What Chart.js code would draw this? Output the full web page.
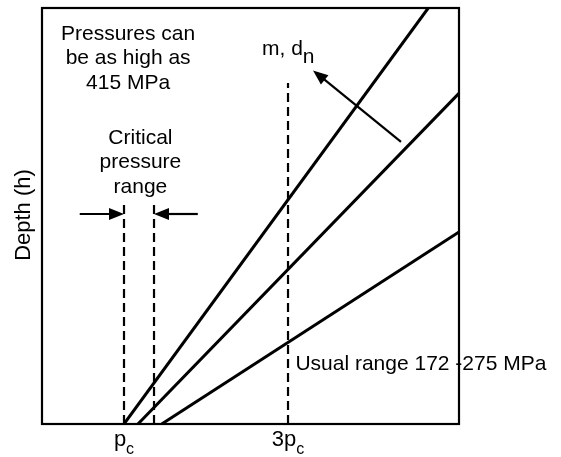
<!DOCTYPE html>
<html>
<head>
<meta charset="utf-8">
<script src="https://cdn.jsdelivr.net/npm/chart.js@4"></script>
<style>
  html, body { margin: 0; padding: 0; background: #fff; }
  #wrap { width: 561px; height: 457px; }
</style>
</head>
<body>
<div id="wrap"><canvas id="chart" width="561" height="457"></canvas></div>
<script>
(function () {
  'use strict';

  // x in multiples of p_c, y is depth in arbitrary units (0 at bottom)
  var lineStartX = [1.0, 1.17, 1.46];
  var lineEndX = [4.71, 5.09, 5.09];
  var lineEndY = [10, 7.96, 4.62];

  var dashX = [1.0, 1.366, 3.0];
  var dashTopY = [5.29, 5.29, 8.2];

  var xTickValues = [1, 3];
  var xTickLabels = ['p', '3p'];

  var FONT = '"Liberation Sans", Arial, sans-serif';

  var datasets = [];
  for (var i = 0; i < lineStartX.length; ++i) {
    datasets.push({
      data: [{ x: lineStartX[i], y: 0 }, { x: lineEndX[i], y: lineEndY[i] }],
      showLine: true,
      borderColor: '#000',
      borderWidth: 3,
      pointRadius: 0,
      fill: false
    });
  }
  for (var j = 0; j < dashX.length; ++j) {
    datasets.push({
      data: [{ x: dashX[j], y: 0 }, { x: dashX[j], y: dashTopY[j] }],
      showLine: true,
      borderColor: '#000',
      borderWidth: 2.2,
      borderDash: [9, 5],
      pointRadius: 0,
      fill: false
    });
  }

  function arrow(ctx, x1, y1, x2, y2, head) {
    var a = Math.atan2(y2 - y1, x2 - x1);
    ctx.beginPath();
    ctx.moveTo(x1, y1);
    ctx.lineTo(x2 - Math.cos(a) * head * 0.8, y2 - Math.sin(a) * head * 0.8);
    ctx.stroke();
    ctx.beginPath();
    ctx.moveTo(x2, y2);
    ctx.lineTo(x2 - head * Math.cos(a) + head * 0.4 * Math.sin(a), y2 - head * Math.sin(a) - head * 0.4 * Math.cos(a));
    ctx.lineTo(x2 - head * Math.cos(a) - head * 0.4 * Math.sin(a), y2 - head * Math.sin(a) + head * 0.4 * Math.cos(a));
    ctx.closePath();
    ctx.fill();
  }

  var annotations = {
    id: 'annotations',
    afterDraw: function (chart) {
      var ctx = chart.ctx;
      var xs = chart.scales.x, ys = chart.scales.y;
      var a = chart.chartArea;
      var px = function (v) { return xs.getPixelForValue(v); };
      var py = function (v) { return ys.getPixelForValue(v); };

      ctx.save();
      ctx.strokeStyle = '#000';
      ctx.fillStyle = '#000';
      ctx.lineWidth = 2.2;
      ctx.strokeRect(a.left, a.top, a.right - a.left, a.bottom - a.top);

      ctx.font = '21px ' + FONT;
      ctx.textBaseline = 'alphabetic';
      ctx.textAlign = 'center';
      var cx1 = px(1.05);
      ctx.fillText('Pressures can', cx1, 40);
      ctx.fillText('be as high as', cx1, 64);
      ctx.fillText('415 MPa', cx1, 89);

      var cx2 = px(1.2);
      ctx.fillText('Critical', cx2, 144);
      ctx.fillText('pressure', cx2, 168);
      ctx.fillText('range', cx2, 193);

      ctx.textAlign = 'left';
      ctx.fillText('Usual range 172 -275 MPa', px(3.09), 370);

      ctx.fillText('m, d', 262, 55);
      var w = ctx.measureText('m, d').width;
      ctx.fillText('n', 262 + w, 63);

      // x tick labels with subscript c
      for (var k = 0; k < xTickValues.length; ++k) {
        ctx.font = '22px ' + FONT;
        var lbl = xTickLabels[k];
        var lw = ctx.measureText(lbl).width;
        ctx.font = '16px ' + FONT;
        var sw = ctx.measureText('c').width;
        var sx = px(xTickValues[k]) - (lw + sw) / 2;
        ctx.font = '22px ' + FONT;
        ctx.fillText(lbl, sx, 446);
        ctx.font = '16px ' + FONT;
        ctx.fillText('c', sx + lw, 454);
      }

      // y axis title
      ctx.font = '22px ' + FONT;
      ctx.textAlign = 'center';
      ctx.translate(30, 215);
      ctx.rotate(-Math.PI / 2);
      ctx.fillText('Depth (h)', 0, 0);
      ctx.setTransform(1, 0, 0, 1, 0, 0);

      // arrows
      ctx.lineWidth = 2.2;
      arrow(ctx, px(4.378), py(6.78), px(3.305), py(8.5), 15);
      arrow(ctx, px(0.46), 214, px(dashX[0]), 214, 15);
      arrow(ctx, px(1.90), 214, px(dashX[1]), 214, 15);
      ctx.restore();
    }
  };

  new Chart(document.getElementById('chart').getContext('2d'), {
    type: 'scatter',
    data: { datasets: datasets },
    options: {
      responsive: false,
      animation: false,
      layout: { padding: { left: 42, top: 8, right: 102, bottom: 33 } },
      plugins: { legend: { display: false }, tooltip: { enabled: false } },
      scales: {
        x: { type: 'linear', min: 0, max: 5.085, display: false },
        y: { type: 'linear', min: 0, max: 10, display: false }
      }
    },
    plugins: [annotations]
  });
}());
</script>
</body>
</html>
